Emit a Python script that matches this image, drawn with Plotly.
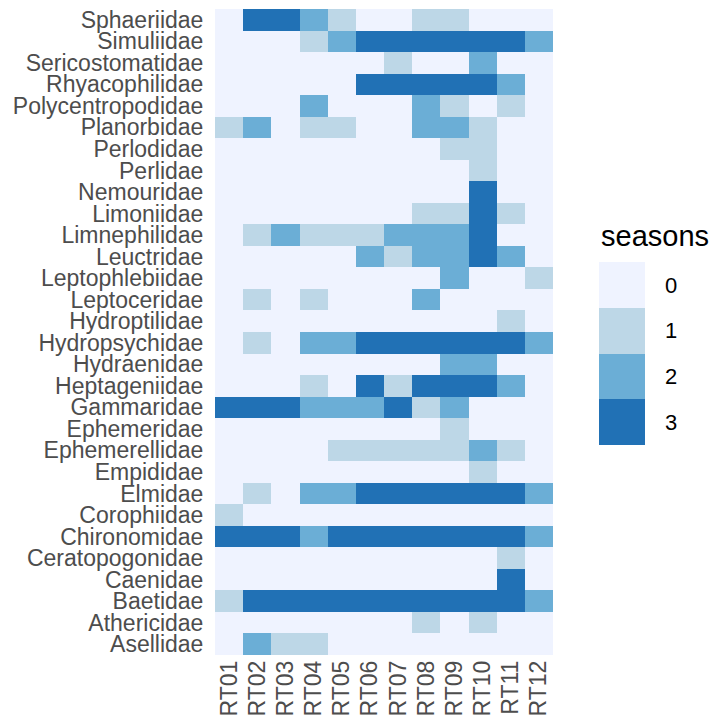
import plotly.graph_objects as go

# Sampling sites (columns) and macroinvertebrate families (rows, top to bottom)
sites = ["RT01", "RT02", "RT03", "RT04", "RT05", "RT06",
         "RT07", "RT08", "RT09", "RT10", "RT11", "RT12"]

families = [
    "Sphaeriidae", "Simuliidae", "Sericostomatidae", "Rhyacophilidae",
    "Polycentropodidae", "Planorbidae", "Perlodidae", "Perlidae",
    "Nemouridae", "Limoniidae", "Limnephilidae", "Leuctridae",
    "Leptophlebiidae", "Leptoceridae", "Hydroptilidae", "Hydropsychidae",
    "Hydraenidae", "Heptageniidae", "Gammaridae", "Ephemeridae",
    "Ephemerellidae", "Empididae", "Elmidae", "Corophiidae",
    "Chironomidae", "Ceratopogonidae", "Caenidae", "Baetidae",
    "Athericidae", "Asellidae",
]

# Number of seasons each family was recorded at each site
seasons = [
    [0, 3, 3, 2, 1, 0, 0, 1, 1, 0, 0, 0],  # Sphaeriidae
    [0, 0, 0, 1, 2, 3, 3, 3, 3, 3, 3, 2],  # Simuliidae
    [0, 0, 0, 0, 0, 0, 1, 0, 0, 2, 0, 0],  # Sericostomatidae
    [0, 0, 0, 0, 0, 3, 3, 3, 3, 3, 2, 0],  # Rhyacophilidae
    [0, 0, 0, 2, 0, 0, 0, 2, 1, 0, 1, 0],  # Polycentropodidae
    [1, 2, 0, 1, 1, 0, 0, 2, 2, 1, 0, 0],  # Planorbidae
    [0, 0, 0, 0, 0, 0, 0, 0, 1, 1, 0, 0],  # Perlodidae
    [0, 0, 0, 0, 0, 0, 0, 0, 0, 1, 0, 0],  # Perlidae
    [0, 0, 0, 0, 0, 0, 0, 0, 0, 3, 0, 0],  # Nemouridae
    [0, 0, 0, 0, 0, 0, 0, 1, 1, 3, 1, 0],  # Limoniidae
    [0, 1, 2, 1, 1, 1, 2, 2, 2, 3, 0, 0],  # Limnephilidae
    [0, 0, 0, 0, 0, 2, 1, 2, 2, 3, 2, 0],  # Leuctridae
    [0, 0, 0, 0, 0, 0, 0, 0, 2, 0, 0, 1],  # Leptophlebiidae
    [0, 1, 0, 1, 0, 0, 0, 2, 0, 0, 0, 0],  # Leptoceridae
    [0, 0, 0, 0, 0, 0, 0, 0, 0, 0, 1, 0],  # Hydroptilidae
    [0, 1, 0, 2, 2, 3, 3, 3, 3, 3, 3, 2],  # Hydropsychidae
    [0, 0, 0, 0, 0, 0, 0, 0, 2, 2, 0, 0],  # Hydraenidae
    [0, 0, 0, 1, 0, 3, 1, 3, 3, 3, 2, 0],  # Heptageniidae
    [3, 3, 3, 2, 2, 2, 3, 1, 2, 0, 0, 0],  # Gammaridae
    [0, 0, 0, 0, 0, 0, 0, 0, 1, 0, 0, 0],  # Ephemeridae
    [0, 0, 0, 0, 1, 1, 1, 1, 1, 2, 1, 0],  # Ephemerellidae
    [0, 0, 0, 0, 0, 0, 0, 0, 0, 1, 0, 0],  # Empididae
    [0, 1, 0, 2, 2, 3, 3, 3, 3, 3, 3, 2],  # Elmidae
    [1, 0, 0, 0, 0, 0, 0, 0, 0, 0, 0, 0],  # Corophiidae
    [3, 3, 3, 2, 3, 3, 3, 3, 3, 3, 3, 2],  # Chironomidae
    [0, 0, 0, 0, 0, 0, 0, 0, 0, 0, 1, 0],  # Ceratopogonidae
    [0, 0, 0, 0, 0, 0, 0, 0, 0, 0, 3, 0],  # Caenidae
    [1, 3, 3, 3, 3, 3, 3, 3, 3, 3, 3, 2],  # Baetidae
    [0, 0, 0, 0, 0, 0, 0, 1, 0, 1, 0, 0],  # Athericidae
    [0, 2, 1, 1, 0, 0, 0, 0, 0, 0, 0, 0],  # Asellidae
]

levels = [0, 1, 2, 3]
level_colors = ["#EFF3FF", "#BDD7E7", "#6BAED6", "#2171B5"]

# The colour bar runs bottom-up, so the scale is flipped (3 - n) to list 0 at the top.
max_level = max(levels)
z_flipped = [[max_level - v for v in row] for row in seasons]
colorscale = []
n = len(levels)
for i, lvl in enumerate(reversed(levels)):
    c = level_colors[lvl]
    colorscale.append([i / n, c])
    colorscale.append([(i + 1) / n, c])

font_family = "Liberation Sans, Arial, sans-serif"
axis_font = dict(family=font_family, size=23, color="#4D4D4D")

fig = go.Figure(
    go.Heatmap(
        z=z_flipped,
        x=sites,
        y=families,
        customdata=seasons,
        hovertemplate="%{y}<br>%{x}<br>seasons: %{customdata}<extra></extra>",
        colorscale=colorscale,
        zmin=-0.5,
        zmax=max_level + 0.5,
        xgap=0,
        ygap=0,
        colorbar=dict(
            tickvals=[max_level - v for v in levels],
            ticktext=[str(v) for v in levels],
            tickfont=dict(family=font_family, size=22, color="black"),
            ticks="outside",
            ticklen=16,
            tickcolor="rgba(0,0,0,0)",
            thickness=46,
            thicknessmode="pixels",
            len=183,
            lenmode="pixels",
            x=1.136,
            xanchor="left",
            xpad=0,
            y=0.4667,
            yanchor="middle",
            ypad=0,
            outlinewidth=0,
        ),
    )
)

# Legend title above the colour key
fig.add_annotation(
    text="seasons",
    xref="paper", yref="paper",
    x=1.136, y=0.6486,
    xanchor="left", yanchor="middle",
    showarrow=False,
    font=dict(family=font_family, size=29, color="black"),
)

fig.update_layout(
    width=711,
    height=723,
    margin=dict(l=215, r=158, t=9, b=68, autoexpand=False),
    paper_bgcolor="white",
    plot_bgcolor="white",
    xaxis=dict(
        tickmode="array",
        tickvals=sites,
        ticktext=sites,
        tickangle=-90,
        tickfont=axis_font,
        showgrid=False,
        zeroline=False,
        ticks="",
        automargin=False,
    ),
    yaxis=dict(
        tickmode="array",
        tickvals=families,
        ticktext=families,
        autorange="reversed",
        tickfont=axis_font,
        showgrid=False,
        zeroline=False,
        ticks="outside",
        ticklen=6,
        tickcolor="rgba(0,0,0,0)",
        automargin=False,
    ),
)

fig.write_html("out.html")
